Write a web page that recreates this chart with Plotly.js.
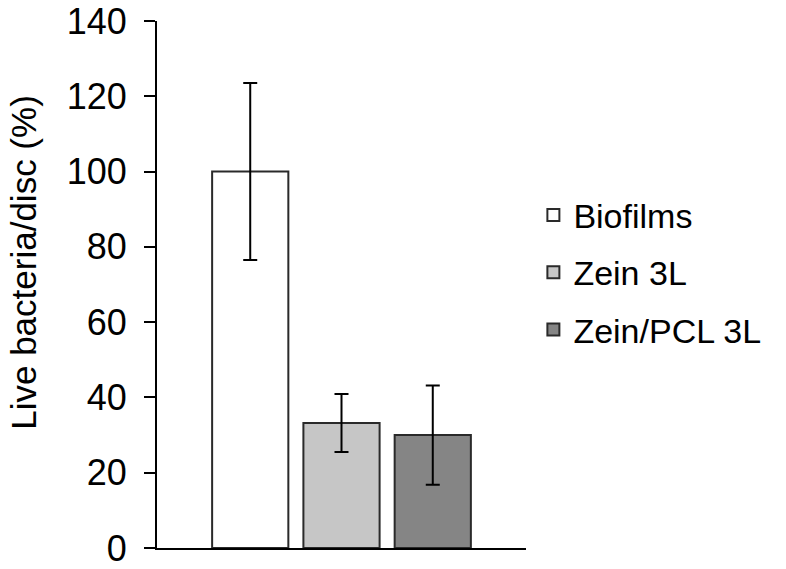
<!DOCTYPE html>
<html>
<head>
<meta charset="utf-8">
<script src="https://cdn.plot.ly/plotly-3.0.1.min.js"></script>
<style>
  html, body { margin: 0; padding: 0; background: #fff; }
  #Graph { width: 786px; height: 569px; }
</style>
</head>
<body>
<div id="Graph"></div>
<script>
var groups = ['Biofilms', 'Zein 3L', 'Zein/PCL 3L'];
var live = [100, 33.2, 30];
var errs = [23.5, 7.7, 13.2];
var fills = ['#ffffff', '#c6c6c6', '#858585'];
var yTitle = 'Live bacteria/disc (%)';

var font = 'Liberation Sans, Arial, Helvetica, sans-serif';

var data = groups.map(function (g, i) {
  return {
    type: 'bar',
    name: g,
    legendgroup: g,
    x: ['disc'],
    y: [live[i]],
    marker: { color: fills[i], line: { color: '#2a2a2a', width: 2 } },
    error_y: { type: 'data', array: [errs[i]], visible: true, color: '#000', thickness: 2, width: 7 }
  };
});

var layout = {
  width: 786,
  height: 569,
  margin: { l: 157, r: 260, t: 21, b: 21 },
  paper_bgcolor: '#fff',
  plot_bgcolor: '#fff',
  font: { family: font, color: '#000' },
  barmode: 'group',
  bargap: 0.258,
  bargroupgap: 0.165,
  showlegend: true,
  legend: {
    x: 1.02, xanchor: 'left',
    y: 0.523, yanchor: 'middle',
    font: { size: 34, family: font, color: '#000' },
    traceorder: 'grouped',
    tracegroupgap: 10
  },
  xaxis: {
    showticklabels: false,
    ticks: '',
    showline: true,
    linecolor: '#000',
    linewidth: 2,
    showgrid: false,
    zeroline: false
  },
  yaxis: {
    range: [0, 140],
    dtick: 20,
    ticks: 'outside',
    ticklen: 11,
    tickwidth: 2,
    tickcolor: '#000',
    ticklabelstandoff: 10,
    showline: true,
    linecolor: '#000',
    linewidth: 2,
    showgrid: false,
    zeroline: false,
    tickfont: { size: 36, family: font, color: '#000' }
  },
  annotations: [{
    text: yTitle,
    xref: 'paper', yref: 'paper',
    x: -0.364, y: 0.5425,
    xanchor: 'center', yanchor: 'middle',
    textangle: -90,
    showarrow: false,
    font: { size: 35, family: font, color: '#000' }
  }]
};

Plotly.newPlot('Graph', data, layout, { displayModeBar: false });
</script>
</body>
</html>
